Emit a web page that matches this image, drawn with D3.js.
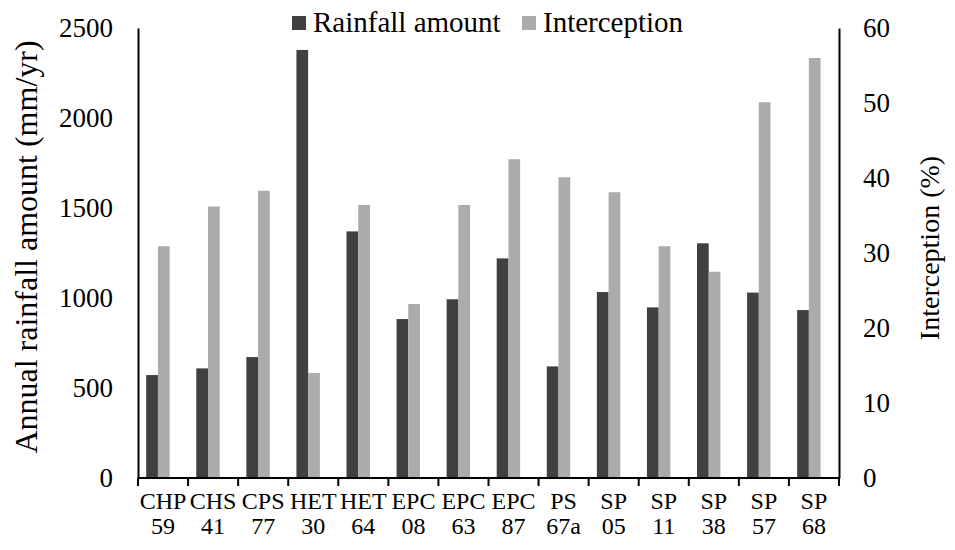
<!DOCTYPE html>
<html>
<head>
<meta charset="utf-8">
<script src="https://cdn.jsdelivr.net/npm/d3@7/dist/d3.min.js"></script>
<style>
  html, body { margin: 0; padding: 0; background: #fff; }
  svg { display: block; }
  text { font-family: "Liberation Serif", "Times New Roman", serif; fill: #000; }
</style>
</head>
<body>
<svg id="chart" width="955" height="550" font-family="Liberation Serif, serif"></svg>
<script>
// ---- data ----
const categoriesTop = ["CHP", "CHS", "CPS", "HET", "HET", "EPC", "EPC", "EPC", "PS", "SP", "SP", "SP", "SP", "SP"];
const categoriesBottom = ["59", "41", "77", "30", "64", "08", "63", "87", "67a", "05", "11", "38", "57", "68"];
const rainfall = [572, 609, 672, 2378, 1370, 883, 993, 1220, 620, 1033, 948, 1304, 1030, 933];
const interception = [30.9, 36.2, 38.3, 14.0, 36.4, 23.2, 36.4, 42.5, 40.1, 38.1, 30.9, 27.5, 50.1, 56.0];
const leftTicks = [0, 500, 1000, 1500, 2000, 2500];
const rightTicks = [0, 10, 20, 30, 40, 50, 60];
const seriesNames = ["Rainfall amount", "Interception"];

// ---- layout ----
const colors = ["#404040", "#ababab"];
const plotL = 138, plotR = 839, plotT = 28, plotB = 478;
const svg = d3.select("#chart");
svg.append("rect").attr("width", 955).attr("height", 550).attr("fill", "#fff");

const ids = categoriesTop.map((d, i) => i);
const x = d3.scaleBand().domain(ids).range([plotL, plotR]).padding(0);
const yL = d3.scaleLinear().domain([0, 2500]).range([plotB, plotT]);
const yR = d3.scaleLinear().domain([0, 60]).range([plotB, plotT]);

const bw = x.bandwidth();
const barW = bw * 0.234;
const off = bw * 0.164;

// bars
svg.append("g").selectAll("rect").data(rainfall).join("rect")
  .attr("x", (d, i) => x(i) + off)
  .attr("y", d => yL(d))
  .attr("width", barW)
  .attr("height", d => plotB - yL(d))
  .attr("fill", colors[0]);
svg.append("g").selectAll("rect").data(interception).join("rect")
  .attr("x", (d, i) => x(i) + off + barW)
  .attr("y", d => yR(d))
  .attr("width", barW)
  .attr("height", d => plotB - yR(d))
  .attr("fill", colors[1]);

// left axis
const gL = svg.append("g").attr("transform", `translate(${plotL},0)`)
  .call(d3.axisLeft(yL).tickValues(leftTicks).tickSize(0).tickPadding(25).tickFormat(d3.format("d")))
  .attr("font-family", "Liberation Serif, serif").attr("font-size", 27);
gL.select(".domain").attr("stroke", "#000").attr("stroke-width", 2);
gL.selectAll("text").attr("fill", "#000");

// right axis
const gR = svg.append("g").attr("transform", `translate(${plotR},0)`)
  .call(d3.axisRight(yR).tickValues(rightTicks).tickSize(0).tickPadding(24).tickFormat(d3.format("d")))
  .attr("font-family", "Liberation Serif, serif").attr("font-size", 27);
gR.select(".domain").attr("stroke", "#000").attr("stroke-width", 2);
gR.selectAll("text").attr("fill", "#000");

// bottom axis line and boundary ticks
svg.append("line").attr("x1", plotL).attr("x2", plotR).attr("y1", plotB).attr("y2", plotB)
  .attr("stroke", "#000").attr("stroke-width", 2);
const bounds = ids.map(i => x(i)).concat([plotR]);
svg.append("g").selectAll("line").data(bounds).join("line")
  .attr("x1", d => d).attr("x2", d => d).attr("y1", plotB).attr("y2", plotB + 8)
  .attr("stroke", "#000").attr("stroke-width", 2);

// category labels
const cl = svg.append("g");
cl.selectAll("text.t1").data(categoriesTop).join("text").attr("class", "t1")
  .attr("x", (d, i) => x(i) + bw / 2).attr("y", 509)
  .attr("text-anchor", "middle").style("font-size", "24px").text(d => d);
cl.selectAll("text.t2").data(categoriesBottom).join("text").attr("class", "t2")
  .attr("x", (d, i) => x(i) + bw / 2).attr("y", 534)
  .attr("text-anchor", "middle").style("font-size", "24px").text(d => d);

// axis titles
svg.append("text").attr("transform", "translate(37,247) rotate(-90)")
  .attr("text-anchor", "middle").style("font-size", "32px").text("Annual rainfall amount (mm/yr)");
svg.append("text").attr("transform", "translate(939,248) rotate(-90)")
  .attr("text-anchor", "middle").style("font-size", "28px").text("Interception (%)");

// legend
const legendX = [292, 522];
seriesNames.forEach((name, i) => {
  svg.append("rect").attr("x", legendX[i]).attr("y", 16).attr("width", 14).attr("height", 14).attr("fill", colors[i]);
  svg.append("text").attr("x", legendX[i] + 21).attr("y", 32).style("font-size", "29px").text(name);
});
</script>
</body>
</html>
